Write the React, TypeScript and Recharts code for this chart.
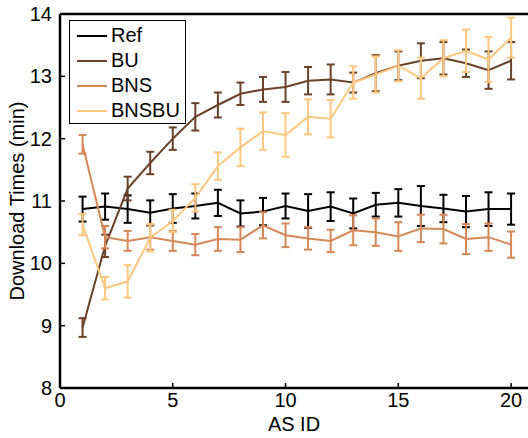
import { LineChart, Line, XAxis, YAxis, ErrorBar, Legend, ReferenceLine } from "recharts"

// AS ID 1..20
const asIds = [1, 2, 3, 4, 5, 6, 7, 8, 9, 10, 11, 12, 13, 14, 15, 16, 17, 18, 19, 20]

const refTimes = [10.87, 10.91, 10.87, 10.81, 10.88, 10.92, 10.97, 10.8, 10.83, 10.92, 10.84, 10.91, 10.8, 10.94, 10.97, 10.92, 10.88, 10.83, 10.87, 10.87]
const refErr = [0.2, 0.21, 0.22, 0.2, 0.23, 0.2, 0.21, 0.21, 0.22, 0.2, 0.27, 0.23, 0.24, 0.19, 0.22, 0.32, 0.22, 0.25, 0.27, 0.25]

const buTimes = [8.97, 10.28, 11.2, 11.61, 12.0, 12.35, 12.54, 12.72, 12.79, 12.83, 12.93, 12.95, 12.9, 13.05, 13.17, 13.25, 13.29, 13.21, 13.1, 13.25]
const buErr = [0.15, 0.18, 0.19, 0.18, 0.18, 0.22, 0.2, 0.18, 0.2, 0.24, 0.22, 0.24, 0.16, 0.29, 0.23, 0.28, 0.26, 0.22, 0.3, 0.3]

const bnsTimes = [11.91, 10.42, 10.36, 10.42, 10.36, 10.3, 10.39, 10.38, 10.61, 10.45, 10.4, 10.36, 10.53, 10.5, 10.43, 10.56, 10.55, 10.39, 10.42, 10.3]
const bnsErr = [0.15, 0.18, 0.16, 0.2, 0.16, 0.17, 0.19, 0.2, 0.21, 0.19, 0.18, 0.18, 0.24, 0.22, 0.23, 0.22, 0.23, 0.24, 0.22, 0.21]

const bnsbuTimes = [10.62, 9.6, 9.71, 10.41, 10.68, 11.05, 11.56, 11.86, 12.12, 12.06, 12.35, 12.32, 12.9, 13.03, 13.17, 12.97, 13.29, 13.41, 13.27, 13.62]
const bnsbuErr = [0.17, 0.18, 0.26, 0.22, 0.18, 0.22, 0.22, 0.3, 0.3, 0.35, 0.28, 0.3, 0.26, 0.29, 0.25, 0.33, 0.29, 0.34, 0.36, 0.32]

const xTicks = [0, 5, 10, 15, 20]
const yTicks = [8, 9, 10, 11, 12, 13, 14]

// copper colormap
const series = [
  { key: "ref", name: "Ref", color: "#000000" },
  { key: "bu", name: "BU", color: "#6a422a" },
  { key: "bns", name: "BNS", color: "#d68858" },
  { key: "bnsbu", name: "BNSBU", color: "#ffc77f" },
]

const data = asIds.map((id, i) => ({
  id,
  ref: refTimes[i],
  refErr: refErr[i],
  bu: buTimes[i],
  buErr: buErr[i],
  bns: bnsTimes[i],
  bnsErr: bnsErr[i],
  bnsbu: bnsbuTimes[i],
  bnsbuErr: bnsbuErr[i],
}))

const font = "'Liberation Sans', Arial, sans-serif"
const fontSize = 20

function LegendBox() {
  return (
    <div
      style={{
        width: 117,
        height: 104,
        border: "1.5px solid #000",
        background: "#fff",
        fontFamily: font,
        fontSize,
        color: "#000",
        boxSizing: "border-box",
        paddingTop: 2,
      }}
    >
      {series.map((s) => (
        <div key={s.key} style={{ display: "flex", alignItems: "center", height: 25 }}>
          <div style={{ width: 30, height: 2, background: s.color, marginLeft: 7, marginRight: 4 }} />
          <span>{s.name}</span>
        </div>
      ))}
    </div>
  )
}

export default function App() {
  return (
    <div style={{ position: "absolute", left: 0, top: 0, width: 528, height: 438, background: "#fff" }}>
      <LineChart width={528} height={438} data={data} margin={{ top: 14, right: 0, bottom: 0, left: 0 }}>
        <XAxis
          dataKey="id"
          type="number"
          domain={[0, 20.75]}
          ticks={xTicks}
          interval={0}
          allowDataOverflow
          height={50}
          axisLine={{ stroke: "#000", strokeWidth: 2.5 }}
          tickLine={{ stroke: "#000", strokeWidth: 1.5 }}
          tickSize={-5}
          tickMargin={10}
          tick={{ fill: "#000", fontSize, fontFamily: font }}
          label={{ value: "AS ID", position: "center", dy: 11, fill: "#000", fontSize, fontFamily: font }}
        />
        <XAxis
          xAxisId="top"
          orientation="top"
          type="number"
          domain={[0, 20.75]}
          ticks={xTicks}
          interval={0}
          height={0}
          mirror
          tick={false}
          axisLine={{ stroke: "#000", strokeWidth: 2.5 }}
          tickLine={{ stroke: "#000", strokeWidth: 1.5 }}
          tickSize={5}
        />
        <YAxis
          type="number"
          domain={[8, 14]}
          ticks={yTicks}
          interval={0}
          width={60}
          axisLine={{ stroke: "#000", strokeWidth: 2.5 }}
          tickLine={{ stroke: "#000", strokeWidth: 1.5 }}
          tickSize={-5}
          tickMargin={13}
          tick={{ fill: "#000", fontSize, fontFamily: font }}
          label={{ value: "Download Times (min)", angle: -90, position: "center", dx: -13, fill: "#000", fontSize, fontFamily: font }}
        />
        <ReferenceLine y={14} stroke="#000" strokeWidth={2.5} />
        <Legend
          content={<LegendBox />}
          wrapperStyle={{ left: 69, top: 20, width: 117 }}
          layout="vertical"
          verticalAlign="middle"
          align="center"
        />
        {series.map((s) => (
          <Line
            key={s.key}
            dataKey={s.key}
            name={s.name}
            stroke={s.color}
            strokeWidth={2}
            dot={false}
            isAnimationActive={false}
          >
            <ErrorBar dataKey={`${s.key}Err`} direction="y" width={4} stroke={s.color} strokeWidth={2} isAnimationActive={false} />
          </Line>
        ))}
      </LineChart>
    </div>
  )
}
